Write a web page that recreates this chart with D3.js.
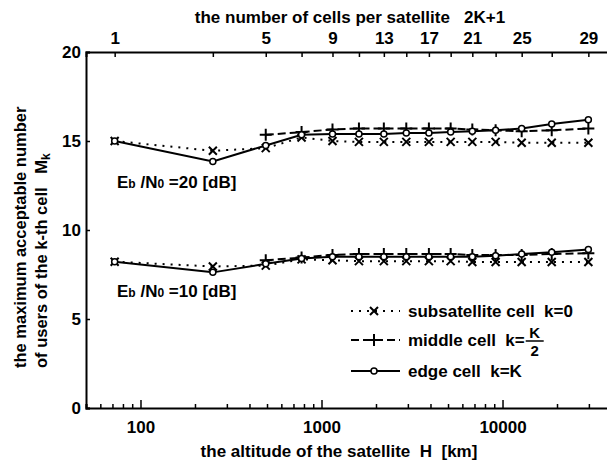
<!DOCTYPE html>
<html>
<head>
<meta charset="utf-8">
<script src="https://cdn.jsdelivr.net/npm/d3@7"></script>
<style>
  body { margin: 0; background: #fff; }
  text { font-family: "Liberation Sans", Arial, sans-serif; font-weight: bold; fill: #000; white-space: pre; }
</style>
</head>
<body>
<div id="canvas"></div>
<script>
// number of cells per satellite (2K+1) and the matching altitude [km]
var cells = [1, 3, 5, 7, 9, 11, 13, 15, 17, 19, 21, 23, 25, 27, 29];
var altitude = [72, 251, 492, 776, 1150, 1610, 2210, 2940, 3920, 5170, 6810, 9160, 12760, 18700, 29800];
var topLabels = [1, 5, 9, 13, 17, 21, 25, 29];
var bottomLabels = [100, 1000, 10000];
var yTicks = [0, 5, 10, 15, 20];

// Eb/N0 = 20 dB
var sub20 = [15.0, 14.45, 14.6, 15.2, 15.0, 14.95, 14.95, 14.95, 14.95, 14.95, 14.95, 14.95, 14.9, 14.9, 14.9];
var mid20 = [null, null, 15.35, 15.5, 15.65, 15.7, 15.7, 15.7, 15.7, 15.7, 15.65, 15.6, 15.55, 15.6, 15.7];
var edge20 = [15.0, 13.85, 14.75, 15.35, 15.4, 15.4, 15.4, 15.45, 15.45, 15.5, 15.55, 15.6, 15.7, 15.95, 16.2];

// Eb/N0 = 10 dB
var sub10 = [8.22, 7.95, 8.0, 8.35, 8.3, 8.25, 8.25, 8.25, 8.25, 8.25, 8.2, 8.2, 8.2, 8.2, 8.2];
var mid10 = [null, null, 8.3, 8.45, 8.6, 8.65, 8.65, 8.65, 8.65, 8.65, 8.6, 8.6, 8.6, 8.65, 8.7];
var edge10 = [8.22, 7.62, 8.1, 8.4, 8.5, 8.5, 8.5, 8.5, 8.5, 8.5, 8.5, 8.55, 8.65, 8.75, 8.9];

var width = 607, height = 462;

var svg = d3.select("#canvas").append("svg")
  .attr("width", width)
  .attr("height", height);

var x = d3.scaleLog().domain([50, 40000]).range([86, 611.5]);
var y = d3.scaleLinear().domain([0, 20]).range([408, 52]);

// bottom axis: inward ticks, long at decades
var minor = x.ticks().filter(function (d) { return d >= 50 && d <= 40000; });
var bottomAxis = svg.append("g")
  .attr("transform", "translate(0," + y(0) + ")")
  .call(d3.axisBottom(x).tickValues(minor).tickSize(-4).tickFormat(""));
bottomAxis.selectAll(".tick line")
  .attr("y2", function (d) { return bottomLabels.indexOf(d) >= 0 ? -8 : -4; });
bottomAxis.selectAll(".tick text").remove();
svg.append("g")
  .attr("transform", "translate(0," + y(0) + ")")
  .call(d3.axisBottom(x).tickValues(bottomLabels).tickSize(0).tickPadding(13).tickFormat(d3.format("d")))
  .call(function (g) { g.select(".domain").remove(); });

// top axis: number of cells
svg.append("g")
  .attr("transform", "translate(0," + y(20) + ")")
  .call(d3.axisTop(x).tickValues(altitude).tickSize(-5).tickPadding(8)
    .tickFormat(function (d, i) { return topLabels.indexOf(cells[i]) >= 0 ? cells[i] : ""; }));

// left axis
svg.append("g")
  .attr("transform", "translate(" + x(50) + ",0)")
  .call(d3.axisLeft(y).tickValues(yTicks).tickSize(-4).tickPadding(5));

svg.selectAll(".domain").attr("stroke", "#000").attr("stroke-width", 2);
svg.selectAll(".tick line").attr("stroke", "#000").attr("stroke-width", 1.5);
svg.selectAll(".tick text").style("font-size", "17px").style("font-family", null).attr("fill", "#000");

// series
var series = [
  { v: sub20, dash: "2,6", mark: "x" },
  { v: mid20, dash: "8,4", mark: "+" },
  { v: edge20, dash: null, mark: "o" },
  { v: sub10, dash: "2,6", mark: "x" },
  { v: mid10, dash: "8,4", mark: "+" },
  { v: edge10, dash: null, mark: "o" }
];

var line = d3.line()
  .defined(function (d) { return d[1] != null; })
  .x(function (d) { return x(d[0]); })
  .y(function (d) { return y(d[1]); });

function marker(g, type, px, py) {
  if (type === "x") {
    g.append("path")
      .attr("d", "M" + (px - 4) + "," + (py - 4) + "L" + (px + 4) + "," + (py + 4) +
        "M" + (px - 4) + "," + (py + 4) + "L" + (px + 4) + "," + (py - 4))
      .attr("stroke", "#000").attr("stroke-width", 2);
  } else if (type === "+") {
    g.append("path")
      .attr("d", "M" + (px - 6) + "," + py + "L" + (px + 6) + "," + py +
        "M" + px + "," + (py - 6) + "L" + px + "," + (py + 6))
      .attr("stroke", "#000").attr("stroke-width", 2);
  } else {
    g.append("circle").attr("cx", px).attr("cy", py).attr("r", 3)
      .attr("fill", "#fff").attr("stroke", "#000").attr("stroke-width", 1.5);
  }
}

series.forEach(function (s) {
  var pts = altitude.map(function (a, i) { return [a, s.v[i]]; });
  svg.append("path")
    .datum(pts)
    .attr("d", line)
    .attr("fill", "none")
    .attr("stroke", "#000")
    .attr("stroke-width", 2)
    .attr("stroke-dasharray", s.dash);
  var g = svg.append("g");
  pts.forEach(function (p) {
    if (p[1] != null) marker(g, s.mark, x(p[0]), y(p[1]));
  });
});

// annotations
function ebn0(yy, val) {
  var t = svg.append("text").attr("x", 117).attr("y", yy).style("font-size", "17px");
  t.append("tspan").text("E");
  t.append("tspan").style("font-size", "12px").text("b");
  t.append("tspan").text(" /N");
  t.append("tspan").style("font-size", "12px").text("0");
  t.append("tspan").text(" =" + val + " [dB]");
}
ebn0(188, 20);
ebn0(297, 10);

// legend
var legend = svg.append("g");
var items = [
  { mark: "x", dash: "2,6", y: 311, label: "subsatellite cell  k=0" },
  { mark: "+", dash: "8,4", y: 340, label: "middle cell  k=" },
  { mark: "o", dash: null, y: 371, label: "edge cell  k=K" }
];
var midEnd = 0;
items.forEach(function (it, i) {
  legend.append("line")
    .attr("x1", 351).attr("x2", 400).attr("y1", it.y).attr("y2", it.y)
    .attr("stroke", "#000").attr("stroke-width", 2)
    .attr("stroke-dasharray", it.dash);
  marker(legend, it.mark, 374, it.y);
  var t = legend.append("text").attr("x", 408).attr("y", it.y + 6)
    .style("font-size", "17px").text(it.label);
  if (i === 1) midEnd = 408 + t.node().getComputedTextLength();
});
// fraction K/2
legend.append("text").attr("x", midEnd + 10).attr("y", 338).attr("text-anchor", "middle")
  .style("font-size", "15px").text("K");
legend.append("line").attr("x1", midEnd + 1).attr("x2", midEnd + 19).attr("y1", 341).attr("y2", 341)
  .attr("stroke", "#000").attr("stroke-width", 1.5);
legend.append("text").attr("x", midEnd + 10).attr("y", 356).attr("text-anchor", "middle")
  .style("font-size", "15px").text("2");

// axis titles
svg.append("text").attr("x", 350).attr("y", 23).attr("text-anchor", "middle")
  .style("font-size", "17px")
  .text("the number of cells per satellite   2K+1");

svg.append("text").attr("x", 339).attr("y", 457).attr("text-anchor", "middle")
  .style("font-size", "17px")
  .text("the altitude of the satellite  H  [km]");

var yt = svg.append("text")
  .attr("transform", "translate(26,368) rotate(-90)")
  .style("font-size", "16.5px");
yt.append("tspan").attr("x", 0).attr("y", 0).text("the maximum acceptable number");
yt.append("tspan").attr("x", 0).attr("y", 21).text("of users of the k-th cell   M");
yt.append("tspan").attr("y", 24).style("font-size", "12px").text("k");
</script>
</body>
</html>
